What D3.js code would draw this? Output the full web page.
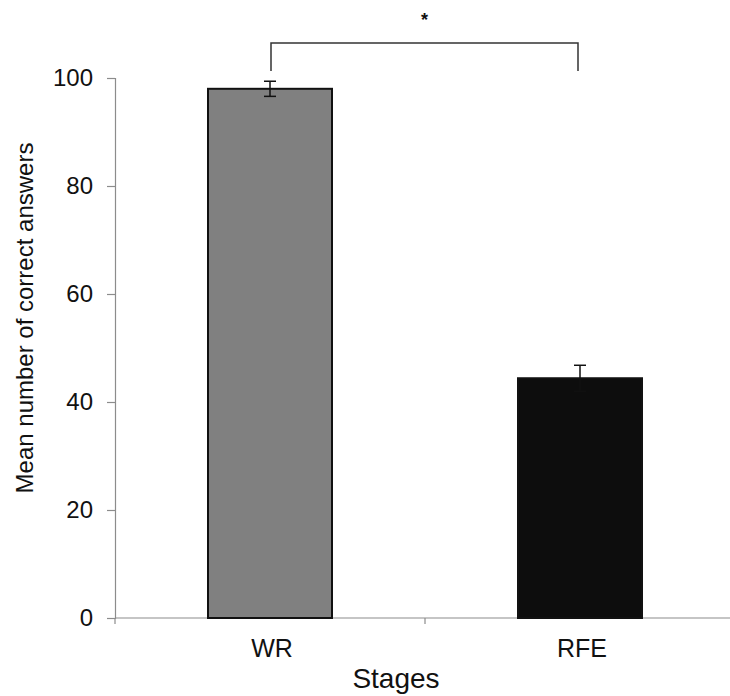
<!DOCTYPE html>
<html>
<head>
  <meta charset="utf-8">
  <style>
    body { margin: 0; background: #fff; }
    text { font-family: "Liberation Sans", Arial, sans-serif; }
  </style>
</head>
<body>
  <svg id="svg"></svg>
<script src="https://d3js.org/d3.v7.min.js"></script>
<script>
  // data
  var stages = ["WR", "RFE"];
  var means = [98.0, 44.4];
  var errs = [1.4, 2.4];
  var yTicks = [0, 20, 40, 60, 80, 100];
  var barFills = ["#808080", "#0d0d0d"];

  var width = 730,
    height = 696;

  var svg = d3.select("#svg").attr("width", width).attr("height", height);

  var x0 = 115;
  var x = d3.scaleBand().domain(stages).range([x0, x0 + 620]).paddingInner(0.6).paddingOuter(0.3);
  var y = d3.scaleLinear().domain([0, 100]).range([618, 78]);

  // y axis
  var yAxis = svg.append("g").attr("transform", "translate(" + x0 + ",0)")
    .call(d3.axisLeft(y).tickValues(yTicks).tickSize(8).tickPadding(14));
  yAxis.select(".domain").attr("stroke", "#8c8c8c").attr("stroke-width", 1.2);
  yAxis.selectAll(".tick line").attr("stroke", "#8c8c8c").attr("stroke-width", 1.2);
  yAxis.selectAll(".tick text").attr("font-size", 24).attr("fill", "#111")
    .attr("font-family", "Liberation Sans, Arial, sans-serif");

  // x axis (ticks at band boundaries)
  var xline = svg.append("g");
  xline.append("line").attr("x1", x0).attr("x2", x0 + 620).attr("y1", y(0)).attr("y2", y(0))
    .attr("stroke", "#8c8c8c").attr("stroke-width", 1.2);
  var bounds = [x0, x0 + x.step(), x0 + 2 * x.step()];
  xline.selectAll("line.tk").data(bounds).enter().append("line").attr("class", "tk")
    .attr("x1", function (d) { return d; }).attr("x2", function (d) { return d; })
    .attr("y1", y(0)).attr("y2", y(0) + 6)
    .attr("stroke", "#8c8c8c").attr("stroke-width", 1.2);

  // bars
  svg.selectAll("rect.bar").data(stages).enter().append("rect").attr("class", "bar")
    .attr("x", function (d) { return x(d); })
    .attr("y", function (d, i) { return y(means[i]); })
    .attr("width", x.bandwidth())
    .attr("height", function (d, i) { return y(0) - y(means[i]); })
    .attr("fill", function (d, i) { return barFills[i]; })
    .attr("stroke", "#111").attr("stroke-width", 2);

  // error bars
  var eb = svg.selectAll("g.err").data(stages).enter().append("g").attr("class", "err")
    .attr("stroke", "#111").attr("stroke-width", 1.5);
  eb.append("line")
    .attr("x1", function (d) { return x(d) + x.bandwidth() / 2; })
    .attr("x2", function (d) { return x(d) + x.bandwidth() / 2; })
    .attr("y1", function (d, i) { return y(means[i] + errs[i]); })
    .attr("y2", function (d, i) { return y(means[i] - errs[i]); });
  [1, -1].forEach(function (s) {
    eb.append("line")
      .attr("x1", function (d) { return x(d) + x.bandwidth() / 2 - 6; })
      .attr("x2", function (d) { return x(d) + x.bandwidth() / 2 + 6; })
      .attr("y1", function (d, i) { return y(means[i] + s * errs[i]); })
      .attr("y2", function (d, i) { return y(means[i] + s * errs[i]); });
  });

  // category labels
  svg.selectAll("text.cat").data(stages).enter().append("text").attr("class", "cat")
    .attr("x", function (d) { return x(d) + x.bandwidth() / 2 + 2; })
    .attr("y", 657)
    .attr("text-anchor", "middle").attr("font-size", 25).attr("fill", "#111")
    .text(function (d) { return d; });

  // axis titles
  svg.append("text").attr("x", 396).attr("y", 688).attr("text-anchor", "middle")
    .attr("font-size", 28).attr("fill", "#111").text("Stages");
  svg.append("text").attr("transform", "translate(33,318) rotate(-90)")
    .attr("text-anchor", "middle").attr("font-size", 24).attr("fill", "#111")
    .text("Mean number of correct answers");

  // significance bracket
  var cx0 = x("WR") + x.bandwidth() / 2 + 1,
    cx1 = x("RFE") + x.bandwidth() / 2 - 2;
  svg.append("path")
    .attr("d", "M" + cx0 + ",71V43H" + cx1 + "V71")
    .attr("fill", "none").attr("stroke", "#333").attr("stroke-width", 1.5);
  svg.append("text").attr("x", (cx0 + cx1) / 2).attr("y", 26).attr("text-anchor", "middle")
    .attr("font-size", 18).attr("font-weight", "bold").attr("fill", "#111").text("*");
</script>
</body>
</html>
